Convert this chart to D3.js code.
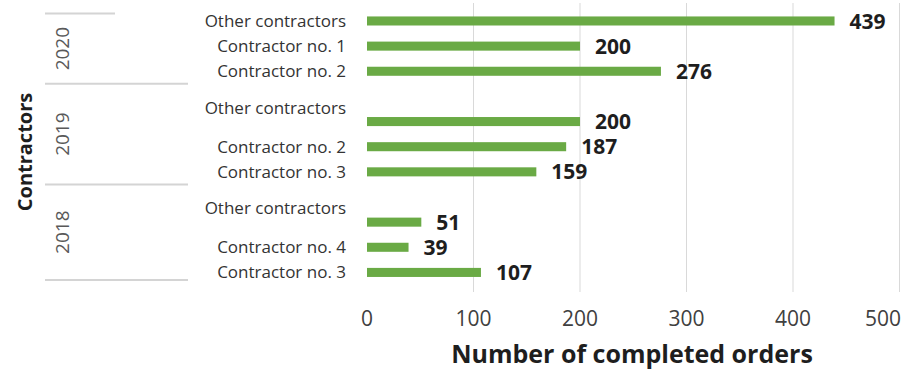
<!DOCTYPE html>
<html>
<head>
<meta charset="utf-8">
<script src="https://cdn.jsdelivr.net/npm/d3@7"></script>
<style>
  html, body { margin: 0; padding: 0; background: #ffffff; }
  svg { display: block; }
  text { font-family: "Open Sans", "DejaVu Sans", sans-serif; }
</style>
</head>
<body>
<svg id="chart" width="921" height="371"></svg>
<script>
// Completed orders per contractor, grouped by year (top to bottom).
// An empty string / null marks the blank row that opens a year group.
const years = ["2020", "2019", "2018"];
const contractors2020 = ["Other contractors", "Contractor no. 1", "Contractor no. 2"];
const orders2020 = [439, 200, 276];
const contractors2019 = ["", "Other contractors", "Contractor no. 2", "Contractor no. 3"];
const orders2019 = [null, 200, 187, 159];
const contractors2018 = ["", "Other contractors", "Contractor no. 4", "Contractor no. 3"];
const orders2018 = [null, 51, 39, 107];
const xTicks = [0, 100, 200, 300, 400, 500];

const xTitle = "Number of completed orders";
const yTitle = "Contractors";

const groups = [
  { year: years[0], names: contractors2020, values: orders2020 },
  { year: years[1], names: contractors2019, values: orders2019 },
  { year: years[2], names: contractors2018, values: orders2018 }
];

// Flatten into one row per category slot.
const rows = [];
groups.forEach((g, gi) => {
  g.names.forEach((name, i) => {
    rows.push({ key: g.year + "|" + i, year: g.year, group: gi, index: i, name, value: g.values[i] });
  });
});

const svg = d3.select("#chart");
const W = 921, H = 371;

const x = d3.scaleLinear().domain([0, 500]).range([367, 899.5]);
const y = d3.scaleBand()
  .domain(rows.map(r => r.key))
  .range([8.4, 285])
  .paddingInner(0.64)
  .paddingOuter(0.32);

const step = y.step();
const slotTop = key => y(key) - (step - y.bandwidth()) / 2;

// Vertical gridlines
svg.append("g")
  .selectAll("line")
  .data(xTicks.filter(t => t > 0))
  .join("line")
  .attr("x1", d => x(d)).attr("x2", d => x(d))
  .attr("y1", 3).attr("y2", 292)
  .attr("stroke", "#d9d9d9")
  .attr("stroke-width", 1);

// X tick labels (kept inside the right edge)
const tickG = svg.append("g")
  .attr("transform", "translate(0,326)");
tickG.selectAll("text")
  .data(xTicks)
  .join("text")
  .attr("x", d => x(d))
  .attr("text-anchor", "middle")
  .attr("font-size", 21)
  .attr("fill", "#404040")
  .text(d => d)
  .each(function () {
    const bb = this.getBBox();
    if (bb.x + bb.width > W - 20) {
      d3.select(this).attr("text-anchor", "end").attr("x", W - 20);
    }
  });

// Bars
const dataRows = rows.filter(r => r.value != null);
svg.append("g")
  .selectAll("rect")
  .data(dataRows)
  .join("rect")
  .attr("x", x(0))
  .attr("y", d => y(d.key))
  .attr("width", d => x(d.value) - x(0))
  .attr("height", y.bandwidth())
  .attr("fill", "#6aaa45");

// Value labels
svg.append("g")
  .selectAll("text")
  .data(dataRows)
  .join("text")
  .attr("x", d => x(d.value) + 15)
  .attr("y", d => y(d.key) + y.bandwidth() / 2)
  .attr("dy", "0.36em")
  .attr("font-size", 21)
  .attr("font-weight", 700)
  .attr("fill", "#1e1e1e")
  .text(d => d.value);

// Category labels; a row that follows a blank slot sits between the two
svg.append("g")
  .selectAll("text")
  .data(dataRows)
  .join("text")
  .attr("x", 346)
  .attr("y", d => {
    const c = y(d.key) + y.bandwidth() / 2;
    return d.index > 0 && groups[d.group].values[d.index - 1] == null ? c - step * 0.55 : c;
  })
  .attr("dy", "0.35em")
  .attr("text-anchor", "end")
  .attr("font-size", 17)
  .attr("fill", "#333333")
  .text(d => d.name);

// Year group separators and labels
const groupBounds = groups.map(g => {
  const keys = rows.filter(r => r.year === g.year).map(r => r.key);
  return { year: g.year, top: slotTop(keys[0]), bottom: slotTop(keys[keys.length - 1]) + step };
});
const sepYs = [groupBounds[0].top + 5].concat(groupBounds.map((b, i) => b.bottom - (i === 2 ? 5 : 0)));

svg.append("g")
  .selectAll("line")
  .data(sepYs)
  .join("line")
  .attr("x1", 45)
  .attr("x2", (d, i) => i === 0 ? 115 : 188)
  .attr("y1", d => d).attr("y2", d => d)
  .attr("stroke", "#d4d4d4")
  .attr("stroke-width", 2);

svg.append("g")
  .selectAll("text")
  .data(groupBounds)
  .join("text")
  .attr("transform", (d, i) => `translate(62,${(sepYs[i] + sepYs[i + 1]) / 2}) rotate(-90)`)
  .attr("text-anchor", "middle")
  .attr("dy", "0.35em")
  .attr("font-size", 19)
  .attr("fill", "#595959")
  .text(d => d.year);

// Axis titles
svg.append("text")
  .attr("x", 632)
  .attr("y", 363)
  .attr("text-anchor", "middle")
  .attr("font-size", 25)
  .attr("font-weight", 700)
  .attr("fill", "#1e1e1e")
  .text(xTitle);

svg.append("text")
  .attr("transform", "translate(25,152) rotate(-90)")
  .attr("text-anchor", "middle")
  .attr("dy", "0.35em")
  .attr("font-size", 20)
  .attr("font-weight", 700)
  .attr("fill", "#1e1e1e")
  .text(yTitle);
</script>
</body>
</html>
